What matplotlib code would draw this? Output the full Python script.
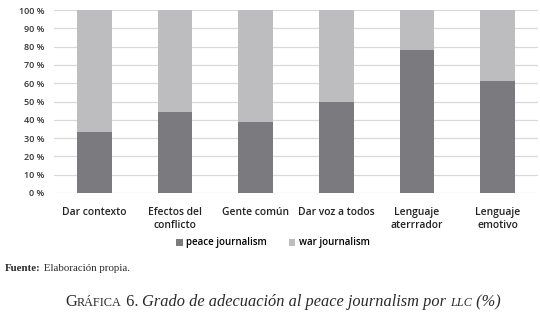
import matplotlib

matplotlib.use("Agg")

import matplotlib.pyplot as plt
import numpy as np

categories = ["Dar contexto", "Efectos del\nconflicto", "Gente común", "Dar voz a todos",
              "Lenguaje\naterrrador", "Lenguaje\nemotivo"]
peace = [33.3, 44.4, 38.8, 50.0, 78.0, 61.2]
war = [100 - v for v in peace]
yticks = list(range(0, 101, 10))

DARK = "#7b7b7f"
LIGHT = "#bdbdbf"
SANS = ["Open Sans", "DejaVu Sans"]
SERIF = ["Liberation Serif", "DejaVu Serif"]

fig = plt.figure(figsize=(5.4, 3.13), dpi=100)
ax = fig.add_axes([54 / 540, 1 - 193 / 313, 484 / 540, 183 / 313])

x = np.arange(len(categories))
ax.bar(x, peace, width=0.43, color=DARK, label="peace journalism", zorder=3)
ax.bar(x, war, width=0.43, bottom=peace, color=LIGHT, label="war journalism", zorder=3)

ax.set_xlim(-0.5, len(categories) - 0.5)
ax.set_ylim(0, 100)
ax.set_yticks(yticks)
ax.set_yticklabels([f"{t} %" for t in yticks], fontsize=6.5, family=SANS, fontweight="semibold",
                   color="#333333")
ax.set_xticks(x)
ax.set_xticklabels(categories, fontsize=7.4, family=SANS, fontweight="semibold", color="#222222",
                   linespacing=1.25)
ax.tick_params(axis="both", length=0)
ax.tick_params(axis="y", pad=7)
ax.tick_params(axis="x", pad=10)
ax.grid(axis="y", color="#d9d9d9", linewidth=0.9, zorder=0)
for s in ax.spines.values():
    s.set_visible(False)

fig.legend(loc="center", bbox_to_anchor=(273 / 540, 1 - 243 / 313), ncol=2, frameon=False,
           prop={"family": SANS, "size": 7, "weight": "semibold"}, handlelength=0.7,
           handleheight=0.7, handletextpad=0.35, columnspacing=2.2)

fig.canvas.draw()
renderer = fig.canvas.get_renderer()


def draw_pieces(pieces, x0, y_px):
    xpos = x0
    for txt, size, style, weight in pieces:
        t = fig.text(xpos / 540, 1 - y_px / 313, txt, fontsize=size, family=SERIF, style=style,
                     fontweight=weight, va="baseline", color="#2a2a2a")
        bb = t.get_window_extent(renderer)
        xpos += bb.width


draw_pieces([("Fuente:", 7.8, "normal", "bold"),
             ("\u00a0Elaboración propia.", 7.8, "normal", "normal")], 5, 271)

# caption with small caps pieces
draw_pieces([
    ("G", 11.8, "normal", "normal"),
    ("RÁFICA", 8.8, "normal", "normal"),
    ("\u00a06.\u00a0", 11.8, "normal", "normal"),
    ("Grado de adecuación al peace journalism por\u00a0", 11.8, "italic", "normal"),
    ("LLC", 8.8, "italic", "normal"),
    ("\u00a0(%)", 11.8, "italic", "normal"),
], 65, 306)

fig.savefig("out.png", dpi=100)
